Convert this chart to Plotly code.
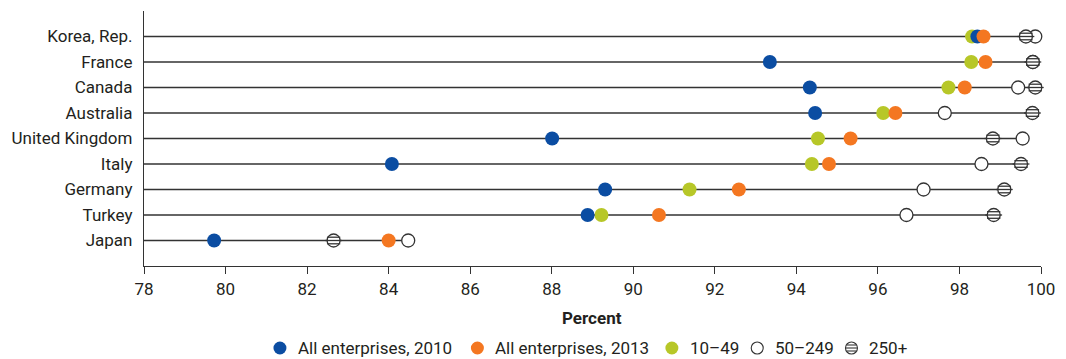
import plotly.graph_objects as go

# [Data] (percent)
countries = ['Korea, Rep.', 'France', 'Canada', 'Australia', 'United Kingdom',
             'Italy', 'Germany', 'Turkey', 'Japan']
all_2010 = [98.44, 93.35, 94.33, 94.46, 88.01, 84.08, 89.31, 88.88, 79.72]
all_2013 = [98.59, 98.64, 98.13, 96.43, 95.33, 94.80, 92.59, 90.63, 84.00]
size_10_49 = [98.31, 98.29, 97.73, 96.13, 94.53, 94.38, 91.38, 89.22, None]
size_50_249 = [99.86, 99.80, 99.44, 97.64, 99.55, 98.54, 97.12, 96.70, 84.48]
size_250 = [99.63, 99.80, 99.86, 99.79, 98.82, 99.51, 99.10, 98.84, 82.65]
x_ticks = list(range(78, 101, 2))

legend_names = ['All enterprises, 2010', 'All enterprises, 2013', '10\u201349', '50\u2013249', '250+']

# [Layout constants]
W, H = 1066, 359
M_L, M_R, M_T, M_B = 144, 18, 11, 93
FONT = 'Roboto'
INK = '#231F20'
LINE = '#333333'
BLUE = '#0B4DA2'
ORANGE = '#F47721'
GREEN = '#B7C728'

ypos = list(range(len(countries)))
row_px = (H - M_T - M_B) / (len(countries) + 1)


# page pixel -> paper coordinates
def px_x(p):
    return (p - M_L) / (W - M_L - M_R)


def px_y(p):
    return (H - M_B - p) / (H - M_T - M_B)


fig = go.Figure()

# row lines run from the axis start to the highest value in the row
lx, ly = [], []
for i, row in enumerate(zip(all_2010, all_2013, size_10_49, size_50_249, size_250)):
    vals = [v for v in row if v is not None]
    lx += [x_ticks[0], max(vals), None]
    ly += [i, i, None]
fig.add_trace(go.Scatter(x=lx, y=ly, mode='lines', line=dict(color=LINE, width=1.3),
                         hoverinfo='skip', showlegend=False))


def dots(x, color, outline=None, size=14):
    fig.add_trace(go.Scatter(
        x=x, y=ypos, mode='markers', cliponaxis=False, showlegend=False,
        marker=dict(symbol='circle', size=size, color=color,
                    line=dict(color=outline or color, width=1.3 if outline else 0)),
    ))


# open markers first, then the coloured ones on top
dots(size_50_249, 'white', outline=LINE, size=13)
dots(size_250, 'white', outline=LINE, size=13)
# stripes inside the 250+ circles
for off, length in [(-3.3, 9.5), (0, 12), (3.3, 9.5)]:
    fig.add_trace(go.Scatter(
        x=size_250, y=[i + off / row_px for i in ypos], mode='markers',
        cliponaxis=False, showlegend=False, hoverinfo='skip',
        marker=dict(symbol='line-ew', size=length, line=dict(color=LINE, width=1.3)),
    ))
dots(size_10_49, GREEN)
dots(all_2010, BLUE)
dots(all_2013, ORANGE)

# [Legend] drawn by hand so the 250+ symbol can carry its stripes
shapes, annotations = [], []
leg_y = 348
leg_dots = [281, 480, 676, 762, 857]
leg_fill = [BLUE, ORANGE, GREEN, 'white', 'white']
for cx, fill, name in zip(leg_dots, leg_fill, legend_names):
    r = 6.5 if fill != 'white' else 6
    shapes.append(dict(
        type='circle', xref='paper', yref='paper', xsizemode='pixel', ysizemode='pixel',
        xanchor=px_x(cx), yanchor=px_y(leg_y), x0=-r, x1=r, y0=-r, y1=r,
        fillcolor=fill, line=dict(color=LINE if fill == 'white' else fill,
                                  width=1.1 if fill == 'white' else 0),
    ))
    annotations.append(dict(
        text=name, xref='paper', yref='paper', x=px_x(cx + 16), y=px_y(leg_y),
        xanchor='left', yanchor='middle', showarrow=False,
        font=dict(family=FONT, size=17, color=INK),
    ))
for dy, half in [(-3, 4.5), (0, 5.5), (3, 4.5)]:
    shapes.append(dict(
        type='line', xref='paper', yref='paper', xsizemode='pixel', ysizemode='pixel',
        xanchor=px_x(leg_dots[-1]), yanchor=px_y(leg_y), x0=-half, x1=half, y0=dy, y1=dy,
        line=dict(color=LINE, width=1.1),
    ))

annotations.append(dict(
    text='<b>Percent</b>', xref='paper', yref='paper', x=px_x(595), y=px_y(318),
    xanchor='center', yanchor='middle', showarrow=False,
    font=dict(family=FONT, size=17, color=INK),
))

fig.update_layout(
    width=W, height=H,
    margin=dict(l=M_L, r=M_R, t=M_T, b=M_B),
    plot_bgcolor='white', paper_bgcolor='white',
    font=dict(family=FONT, size=17, color=INK),
    showlegend=False,
    shapes=shapes,
    annotations=annotations,
    xaxis=dict(
        range=[x_ticks[0], x_ticks[-1]], tickvals=x_ticks,
        showline=True, linecolor=LINE, linewidth=1.3,
        ticks='outside', ticklen=7, tickwidth=1.3, tickcolor=LINE,
        showgrid=False, zeroline=False,
        tickfont=dict(family=FONT, size=17, color=INK),
    ),
    yaxis=dict(
        range=[len(countries), -1], tickvals=ypos, ticktext=countries,
        showline=True, linecolor=LINE, linewidth=1.3, ticks='',
        ticklabelstandoff=7,
        showgrid=False, zeroline=False,
        tickfont=dict(family=FONT, size=17, color=INK),
    ),
)

# drop the default page margin so the figure sits at the window's corner
fig.write_html("out.html", config={'displayModeBar': False},
               post_script="document.body.style.margin='0';document.body.style.overflow='hidden';")
